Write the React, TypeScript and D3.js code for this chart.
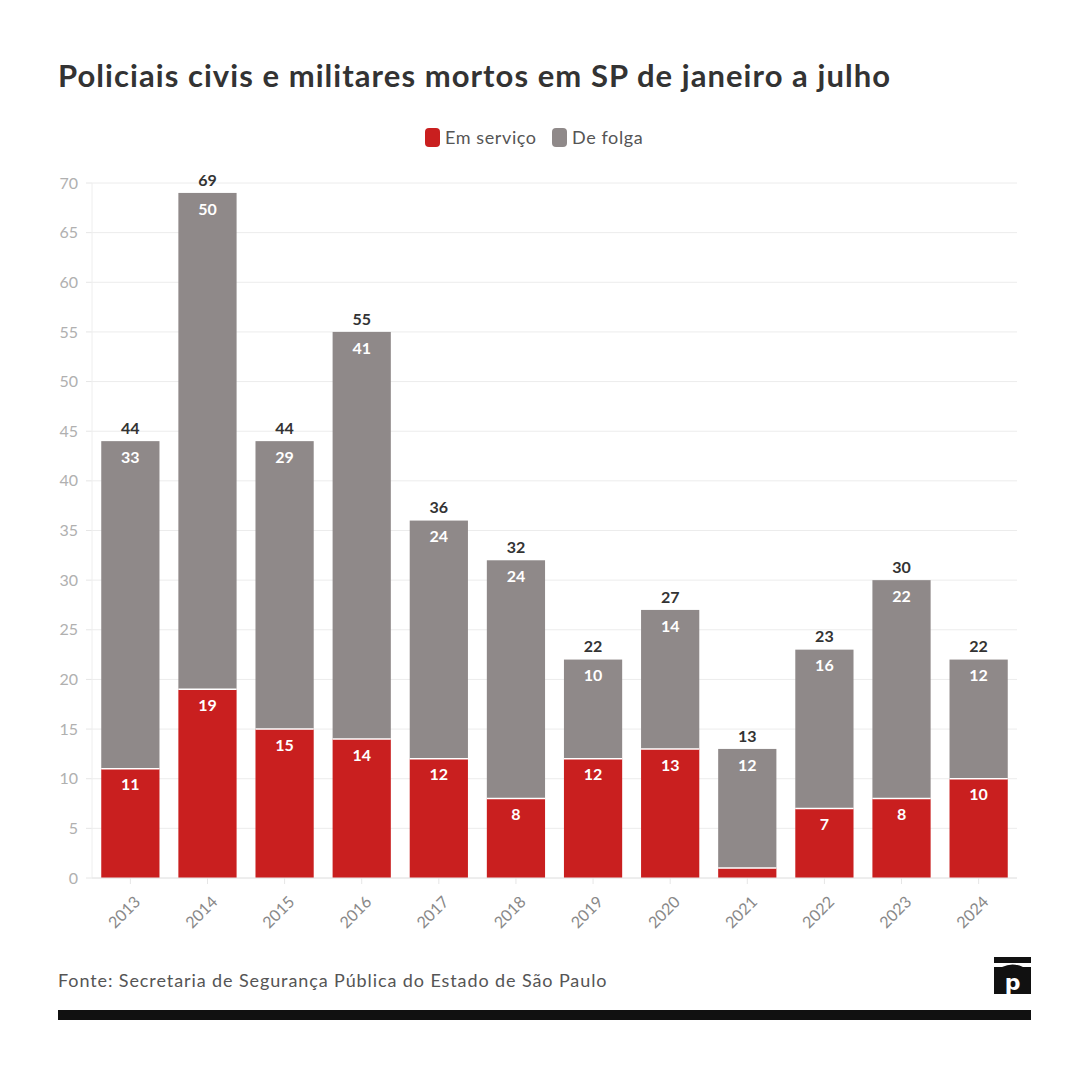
import { useEffect } from "react";
import * as d3 from "d3";

const years = ["2013", "2014", "2015", "2016", "2017", "2018", "2019", "2020", "2021", "2022", "2023", "2024"];
const emServico = [11, 19, 15, 14, 12, 8, 12, 13, 1, 7, 8, 10];
const deFolga = [33, 50, 29, 41, 24, 24, 10, 14, 12, 16, 22, 12];
const yTicks = [0, 5, 10, 15, 20, 25, 30, 35, 40, 45, 50, 55, 60, 65, 70];

const RED = "#c91f1f";
const GRAY = "#8f8989";
const FONT = "Lato, 'Open Sans', sans-serif";

const App = () => {
  useEffect(() => {
    document.body.style.margin = "0";
  }, []);

  const left = 92;
  const right = 1017;
  const top = 183;
  const bottom = 878;

  const x = d3.scaleBand<string>().domain(years).range([left, right]).paddingInner(0.245).paddingOuter(0.12);
  const y = d3.scaleLinear().domain([0, 70]).range([bottom, top]);

  const rows = years.map((yr, i) => ({ yr, a: emServico[i], b: deFolga[i], t: emServico[i] + deFolga[i] }));

  return (
    <svg width={1080} height={1080} style={{ display: "block", background: "#fff" }} fontFamily={FONT}>
      <text x={58} y={87} fontSize={31} fontWeight={700} fill="#333" letterSpacing={1.05}>
        Policiais civis e militares mortos em SP de janeiro a julho
      </text>

      {/* legend */}
      <g fontSize={18} fill="#555" letterSpacing={0.6}>
        <rect x={425} y={128} width={15} height={19} rx={4} fill={RED} />
        <text x={445} y={144}>Em serviço</text>
        <rect x={552} y={128} width={15} height={19} rx={4} fill={GRAY} />
        <text x={572} y={144}>De folga</text>
      </g>

      {/* grid + y axis */}
      <g>
        {yTicks.map((t) => (
          <g key={t}>
            <line x1={left} x2={right} y1={y(t)} y2={y(t)} stroke="#ececec" strokeWidth={1} />
            <line x1={left - 6} x2={left} y1={y(t)} y2={y(t)} stroke="#e6e6e6" />
            <text x={left - 14} y={y(t)} dy="0.35em" textAnchor="end" fontSize={16} fill="#b0b0b0">
              {t}
            </text>
          </g>
        ))}
        <line x1={left} x2={left} y1={top} y2={bottom} stroke="#eee" />
      </g>

      {/* bars */}
      {rows.map((d) => {
        const x0 = x(d.yr)!;
        const w = x.bandwidth();
        const cx = x0 + w / 2;
        return (
          <g key={d.yr}>
            <rect x={x0} y={y(d.a)} width={w} height={y(0) - y(d.a)} fill={RED} />
            <rect x={x0} y={y(d.t)} width={w} height={y(d.a) - y(d.t)} fill={GRAY} />
            <line x1={x0} x2={x0 + w} y1={y(d.a)} y2={y(d.a)} stroke="#fff" strokeWidth={1.5} />
            {d.a >= 3 && (
              <text x={cx} y={y(d.a) + 16} dy="0.35em" textAnchor="middle" fontSize={16} fontWeight={700} fill="#fff">
                {d.a}
              </text>
            )}
            <text x={cx} y={y(d.t) + 16} dy="0.35em" textAnchor="middle" fontSize={16} fontWeight={700} fill="#fff">
              {d.b}
            </text>
            <text x={cx} y={y(d.t) - 13} dy="0.35em" textAnchor="middle" fontSize={16} fontWeight={700} fill="#333">
              {d.t}
            </text>
            <line x1={cx} x2={cx} y1={bottom} y2={bottom + 6} stroke="#e6e6e6" />
            <text
              transform={`translate(${cx + 7},${bottom + 21}) rotate(-45)`}
              textAnchor="end"
              dy="0.35em"
              fontSize={16}
              fill="#888"
            >
              {d.yr}
            </text>
          </g>
        );
      })}
      <line x1={left} x2={right} y1={bottom} y2={bottom} stroke="#e6e6e6" />

      <text x={58} y={987} fontSize={18} fill="#555" letterSpacing={0.9}>
        Fonte: Secretaria de Segurança Pública do Estado de São Paulo
      </text>

      {/* logo */}
      <g>
        <rect x={994} y={957} width={37} height={6} fill="#111" />
        <path d="M994,994 L994,967 L1002,967 Q1012.5,962 1023,967 L1031,967 L1031,994 Z" fill="#111" />
        <text x={1012.5} y={990} textAnchor="middle" fontSize={22} fontWeight={700} fill="#fff" fontFamily="'DejaVu Sans', sans-serif">
          p
        </text>
      </g>

      <rect x={58} y={1010} width={973} height={10} fill="#111" />
    </svg>
  );
};

export default App;
